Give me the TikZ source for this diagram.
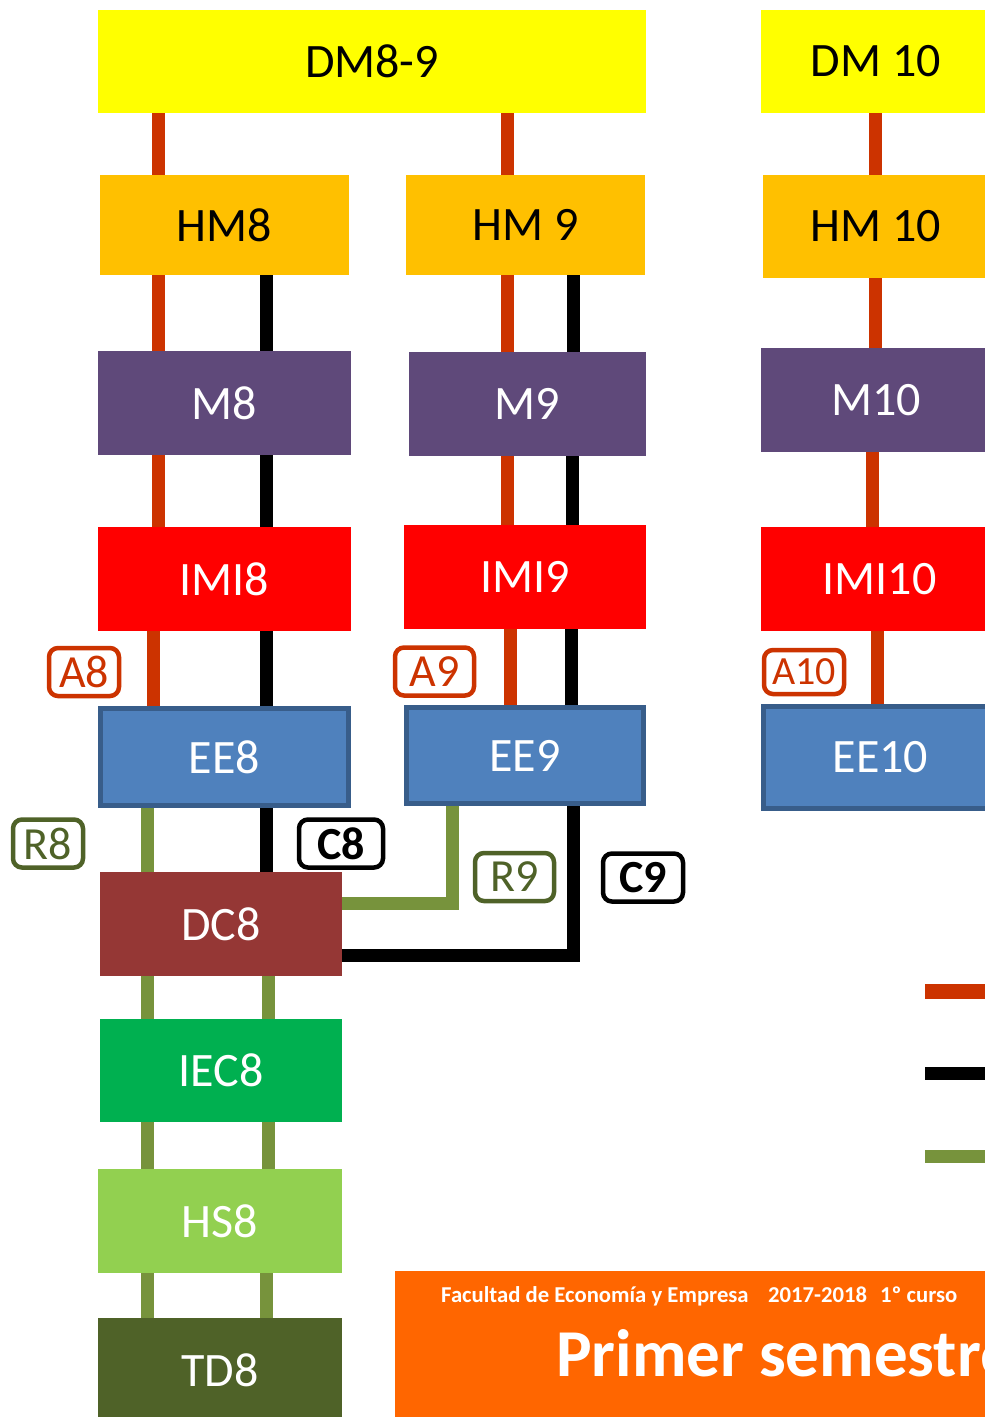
\documentclass[tikz,border=0pt]{standalone}
\usepackage{fontspec}
\setmainfont{Carlito}
\definecolor{dmyellow}{HTML}{FFFF00}
\definecolor{hmgold}{HTML}{FFC000}
\definecolor{mpurple}{HTML}{5F497A}
\definecolor{imired}{HTML}{FF0000}
\definecolor{eeblue}{HTML}{4F81BD}
\definecolor{eeedge}{HTML}{385D8A}
\definecolor{dcbrown}{HTML}{953735}
\definecolor{iecgreen}{HTML}{00B050}
\definecolor{hslight}{HTML}{92D050}
\definecolor{tdolive}{HTML}{4F6228}
\definecolor{linkred}{HTML}{CC3300}
\definecolor{linkgreen}{HTML}{77933C}
\definecolor{bannerorange}{HTML}{FF6600}
\tikzstyle{box} = [rectangle, inner sep=0pt, text centered, font=\fontsize{48}{56}\selectfont]
\tikzstyle{dm} = [box, fill=dmyellow, text=black]
\tikzstyle{hm} = [box, fill=hmgold, text=black]
\tikzstyle{mod} = [box, fill=mpurple, text=white]
\tikzstyle{imi} = [box, fill=imired, text=white]
\tikzstyle{ee} = [box, fill=eeblue, draw=eeedge, line width=5pt, text=white]
\tikzstyle{dc} = [box, fill=dcbrown, text=white]
\tikzstyle{iec} = [box, fill=iecgreen, text=white]
\tikzstyle{hs} = [box, fill=hslight, text=white]
\tikzstyle{td} = [box, fill=tdolive, text=white]
\tikzstyle{tag} = [rectangle, rounded corners=9pt, inner sep=0pt, line width=4.5pt, fill=white, text centered, font=\fontsize{46}{52}\selectfont, minimum height=48pt]
\tikzstyle{atag} = [tag, draw=linkred, text=linkred]
\tikzstyle{rtag} = [tag, draw=tdolive, text=tdolive]
\tikzstyle{ctag} = [tag, draw=black, text=black, font=\fontsize{46}{52}\selectfont\bfseries]
\tikzstyle{alink} = [line width=13pt, draw=linkred]
\tikzstyle{clink} = [line width=13pt, draw=black]
\tikzstyle{rlink} = [line width=13pt, draw=linkgreen]
\tikzstyle{small} = [anchor=base west, inner sep=0pt, text=white, font=\fontsize{22.7}{26}\selectfont\bfseries]
\begin{document}
\begin{tikzpicture}[x=1pt, y=-1pt]
	\useasboundingbox (0,0) rectangle (985,1417);
	\clip (0,0) rectangle (985,1417);
	
	\node (dm89) [dm, minimum width=548, minimum height=103] at (372,61.5) {DM8-9};
	\node (dm10) [dm, minimum width=230, minimum height=103] at (876,61.5) {DM 10};
	
	\node (hm8) [hm, minimum width=249, minimum height=100] at (224.5,225) {HM8};
	\node (hm9) [hm, minimum width=239, minimum height=100] at (525.5,225) {HM 9};
	\node (hm10) [hm, minimum width=226, minimum height=103] at (876,226.5) {HM 10};
	
	\node (m8) [mod, minimum width=253, minimum height=104] at (224.5,403) {M8};
	\node (m9) [mod, minimum width=237, minimum height=104] at (527.5,404) {M9};
	\node (m10) [mod, minimum width=230, minimum height=104] at (876,400) {M10};
	
	\node (imi8) [imi, minimum width=253, minimum height=104] at (224.5,579) {IMI8};
	\node (imi9) [imi, minimum width=242, minimum height=104] at (525,577) {IMI9};
	\node (imi10) [imi, minimum width=237, minimum height=104] at (879.5,579) {IMI10};
	
	\node (ee8) [ee, minimum width=248, minimum height=97] at (224.5,757) {EE8};
	\node (ee9) [ee, minimum width=237, minimum height=96] at (525,755.5) {EE9};
	\node (ee10) [ee, minimum width=234, minimum height=102] at (880.5,757.5) {EE10};
	
	\node (dc8) [dc, minimum width=242, minimum height=104] at (221,924) {DC8};
	\node (iec8) [iec, minimum width=242, minimum height=103] at (221,1070.5) {IEC8};
	\node (hs8) [hs, minimum width=244, minimum height=104] at (220,1221) {HS8};
	\node (td8) [td, minimum width=244, minimum height=104] at (220,1370) {TD8};
	
	\node (a8) [atag, minimum width=70] at (84,672) {A8};
	\node (a9) [atag, minimum width=79] at (434.5,671.5) {A9};
	\node (a10) [atag, minimum width=80, minimum height=44, font=\fontsize{40}{46}\selectfont] at (804,672) {A10};
	\node (r8) [rtag, minimum width=70] at (48,843.5) {R8};
	\node (r9) [rtag, minimum width=79] at (514.5,877) {R9};
	\node (c8) [ctag, minimum width=84] at (341,843.5) {C8};
	\node (c9) [ctag, minimum width=80] at (643,877.5) {C9};
	
	% links between the columns
	\draw[alink] ([xshift=-66.5pt]hm8.north) -- ([xshift=-66.5pt]hm8.north |- dm89.south);
	\draw[alink] ([xshift=-18.5pt]hm9.north) -- ([xshift=-18.5pt]hm9.north |- dm89.south);
	\draw[alink] ([xshift=-1pt]hm10.north) -- ([xshift=-1pt]hm10.north |- dm10.south);
	
	\draw[alink] ([xshift=-66.5pt]m8.north) -- ([xshift=-66.5pt]m8.north |- hm8.south);
	\draw[clink] ([xshift=41.5pt]m8.north) -- ([xshift=41.5pt]m8.north |- hm8.south);
	\draw[alink] ([xshift=-20.5pt]m9.north) -- ([xshift=-20.5pt]m9.north |- hm9.south);
	\draw[clink] ([xshift=45.5pt]m9.north) -- ([xshift=45.5pt]m9.north |- hm9.south);
	\draw[alink] ([xshift=-1pt]m10.north) -- ([xshift=-1pt]m10.north |- hm10.south);
	
	\draw[alink] ([xshift=-66.5pt]imi8.north) -- ([xshift=-66.5pt]imi8.north |- m8.south);
	\draw[clink] ([xshift=41.5pt]imi8.north) -- ([xshift=41.5pt]imi8.north |- m8.south);
	\draw[alink] ([xshift=-18pt]imi9.north) -- ([xshift=-18pt]imi9.north |- m9.south);
	\draw[clink] ([xshift=47pt]imi9.north) -- ([xshift=47pt]imi9.north |- m9.south);
	\draw[alink] ([xshift=-7.5pt]imi10.north) -- ([xshift=-7.5pt]imi10.north |- m10.south);
	
	\draw[alink] ([xshift=-71.5pt]ee8.north) -- ([xshift=-71.5pt]ee8.north |- imi8.south);
	\draw[clink] ([xshift=41.5pt]ee8.north) -- ([xshift=41.5pt]ee8.north |- imi8.south);
	\draw[alink] ([xshift=-15pt]ee9.north) -- ([xshift=-15pt]ee9.north |- imi9.south);
	\draw[clink] ([xshift=46pt]ee9.north) -- ([xshift=46pt]ee9.north |- imi9.south);
	\draw[alink] ([xshift=-3.5pt]ee10.north) -- ([xshift=-3.5pt]ee10.north |- imi10.south);
	
	\draw[rlink] ([xshift=-74pt]dc8.north) -- ([xshift=-74pt]dc8.north |- ee8.south);
	\draw[clink] ([xshift=45pt]dc8.north) -- ([xshift=45pt]dc8.north |- ee8.south);
	\draw[rlink] ([xshift=-73pt]ee9.south) |- ([yshift=21pt]dc8.east);
	\draw[clink] ([xshift=48pt]ee9.south) |- ([yshift=-31pt]dc8.east);
	
	\draw[rlink] ([xshift=-74pt]iec8.north) -- ([xshift=-74pt]iec8.north |- dc8.south);
	\draw[rlink] ([xshift=47pt]iec8.north) -- ([xshift=47pt]iec8.north |- dc8.south);
	\draw[rlink] ([xshift=-73pt]hs8.north) -- ([xshift=-73pt]hs8.north |- iec8.south);
	\draw[rlink] ([xshift=48pt]hs8.north) -- ([xshift=48pt]hs8.north |- iec8.south);
	\draw[rlink] ([xshift=-73pt]td8.north) -- ([xshift=-73pt]td8.north |- hs8.south);
	\draw[rlink] ([xshift=46pt]td8.north) -- ([xshift=46pt]td8.north |- hs8.south);
	
	% key
	\fill[linkred] (925,984) rectangle (1000,999);
	\fill[black] (925,1067) rectangle (1000,1080);
	\fill[linkgreen] (925,1150) rectangle (1000,1163);
	
	\node (banner) [rectangle, fill=bannerorange, inner sep=0pt, minimum width=605, minimum height=160, anchor=north west] at (395,1271) {};
	\node (fac) [small] at (441,1302) {Facultad de Economía y Empresa};
	\node (year) [small] at (768,1302) {2017-2018};
	\node (curso) [small] at (880,1302) {1º curso};
	\node (sem) [anchor=base west, inner sep=0pt, text=white, font=\fontsize{67}{76}\selectfont\bfseries] at (556,1376) {Primer semestre};
	
\end{tikzpicture}
\end{document}
